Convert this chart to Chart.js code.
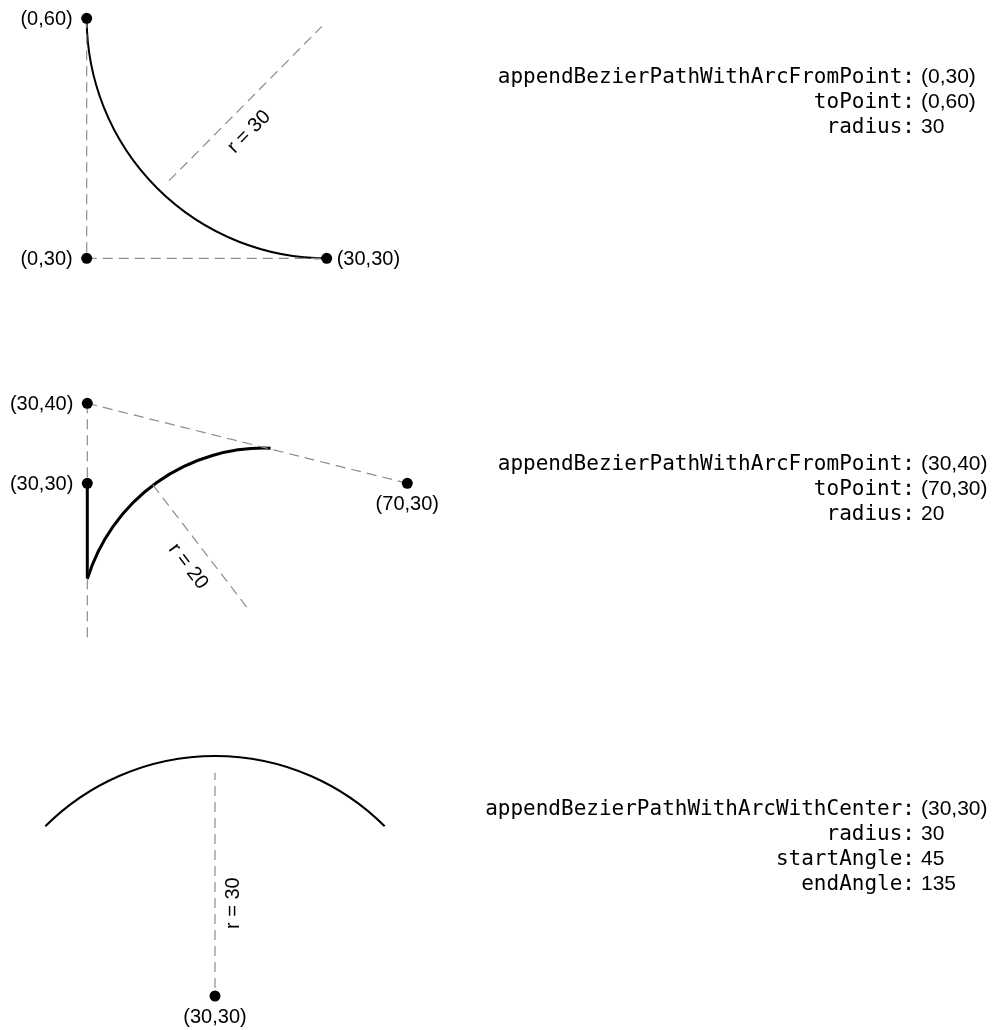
<!DOCTYPE html>
<html>
<head>
<meta charset="utf-8">
<script src="https://cdn.jsdelivr.net/npm/chart.js@4.4.1/dist/chart.umd.min.js"></script>
<style>
  body { margin: 0; background: #fff; }
  #page { position: relative; width: 993px; height: 1030px; overflow: hidden; }
  #page canvas { position: absolute; left: 0; }
  .call { position: absolute; left: 0; width: 993px; }
  .row { position: relative; height: 25px; line-height: 25px; }
  .k { position: absolute; right: 78px; font: 21px "DejaVu Sans Mono", monospace; color: #000; white-space: pre; }
  .v { position: absolute; left: 921px; font: 21px "Liberation Sans", Arial, sans-serif; color: #000; white-space: pre; }
</style>
</head>
<body>
<div id="page">
  <canvas id="arc1" width="993" height="330" style="top:0"></canvas>
  <canvas id="arc2" width="993" height="330" style="top:330px"></canvas>
  <canvas id="arc3" width="993" height="370" style="top:660px"></canvas>
  <div class="call" id="call1" style="top:64px"></div>
  <div class="call" id="call2" style="top:451px"></div>
  <div class="call" id="call3" style="top:796px"></div>
</div>
<script>
// --- data -------------------------------------------------------------
// 1: appendBezierPathWithArcFromPoint:(0,30) toPoint:(0,60) radius:30
const call1Keys = ['appendBezierPathWithArcFromPoint:', 'toPoint:', 'radius:'];
const call1Values = ['(0,30)', '(0,60)', '30'];
const p1Points = [{ x: 0, y: 60 }, { x: 0, y: 30 }, { x: 30, y: 30 }];
const p1Guides = [
  [{ x: 0, y: 60 }, { x: 0, y: 30 }],
  [{ x: 0, y: 30 }, { x: 30, y: 30 }],
  [{ x: 10.3, y: 39.7 }, { x: 29.4, y: 59 }]
];
const p1Arc = [30, 60, 30, 180, 270]; // centre x, centre y, radius, from, to (degrees)
const p1Radius = 30;

// 2: appendBezierPathWithArcFromPoint:(30,40) toPoint:(70,30) radius:20
const call2Keys = ['appendBezierPathWithArcFromPoint:', 'toPoint:', 'radius:'];
const call2Values = ['(30,40)', '(70,30)', '20'];
const p2Points = [{ x: 30, y: 40 }, { x: 30, y: 30 }, { x: 70, y: 30 }];
const p2Guides = [
  [{ x: 30, y: 40 }, { x: 30, y: 10.2 }],
  [{ x: 30, y: 40 }, { x: 70, y: 30 }],
  [{ x: 38.2, y: 29.8 }, { x: 50.1, y: 14.3 }]
];
const p2Path = [{ x: 30, y: 30 }, { x: 30, y: 18.2 }];
const p2Arc = [52.1, 11.3, 23.1, 88, 163];
const p2Radius = 20;

// 3: appendBezierPathWithArcWithCenter:(30,30) radius:30 startAngle:45 endAngle:135
const call3Keys = ['appendBezierPathWithArcWithCenter:', 'radius:', 'startAngle:', 'endAngle:'];
const call3Values = ['(30,30)', '30', '45', '135'];
const p3Points = [{ x: 30, y: 30 }];
const p3Guides = [[{ x: 30, y: 31 }, { x: 30, y: 57.9 }]];
const p3Arc = [30, 30, 30, 45, 135];
const p3Radius = 30;

// --- drawing ----------------------------------------------------------
const unit = 8; // px per unit, same on both axes

function xRange(value, px, size) {
  const min = value - px / unit;
  return { min, max: min + size / unit };
}
function yRange(value, px, size) {
  const max = value + px / unit;
  return { min: max - size / unit, max };
}

const pointLabel = p => '(' + p.x + ',' + p.y + ')';

const diagram = {
  id: 'diagram',
  beforeDatasetsDraw(chart, args, opts) {
    const { ctx, scales: { x, y } } = chart;
    const [cx, cy, r, from, to] = opts.arc;
    const px = x.getPixelForValue(cx), py = y.getPixelForValue(cy);
    const rx = Math.abs(x.getPixelForValue(cx + r) - px);
    const ry = Math.abs(y.getPixelForValue(cy + r) - py);
    ctx.save();
    ctx.beginPath();
    ctx.ellipse(px, py, rx, ry, 0, -from * Math.PI / 180, -to * Math.PI / 180, true);
    ctx.lineWidth = opts.arcWidth;
    ctx.strokeStyle = '#000';
    ctx.stroke();
    ctx.restore();
  },
  afterDatasetsDraw(chart, args, opts) {
    const { ctx, scales: { x, y } } = chart;
    ctx.save();
    ctx.fillStyle = '#000';
    ctx.font = '20px "Liberation Sans", Arial, sans-serif';
    opts.points.forEach((p, i) => {
      const px = x.getPixelForValue(p.x), py = y.getPixelForValue(p.y);
      const where = opts.placement[i];
      if (where === 'left') {
        ctx.textAlign = 'right'; ctx.textBaseline = 'middle';
        ctx.fillText(pointLabel(p), px - 14, py + 1);
      } else if (where === 'right') {
        ctx.textAlign = 'left'; ctx.textBaseline = 'middle';
        ctx.fillText(pointLabel(p), px + 10, py + 1);
      } else {
        ctx.textAlign = 'center'; ctx.textBaseline = 'middle';
        ctx.fillText(pointLabel(p), px, py + 21);
      }
    });
    const lab = opts.radiusLabel;
    ctx.translate(x.getPixelForValue(lab.x), y.getPixelForValue(lab.y));
    ctx.rotate(lab.angle * Math.PI / 180);
    ctx.textAlign = 'center';
    ctx.textBaseline = 'middle';
    ctx.fillText('r = ' + opts.radius, 0, 0);
    ctx.restore();
  }
};

function guideSet(line) {
  return {
    data: line, showLine: true, borderColor: '#8c8c8c', borderWidth: 1.2,
    borderDash: [10, 6], pointRadius: 0, fill: false, order: 2
  };
}

function makeDiagram(id, size, anchor, guides, path, points, arc, arcWidth, placement, radius, radiusLabel) {
  const datasets = guides.map(guideSet);
  if (path) {
    datasets.push({ data: path, showLine: true, borderColor: '#000', borderWidth: arcWidth, pointRadius: 0, order: 1 });
  }
  datasets.push({ data: points, showLine: false, pointRadius: 5.5, pointBackgroundColor: '#000', pointBorderWidth: 0, order: 0 });
  return new Chart(document.getElementById(id), {
    type: 'scatter',
    data: { datasets },
    options: {
      responsive: false,
      animation: false,
      events: [],
      layout: { padding: 0, autoPadding: false },
      scales: {
        x: Object.assign({ type: 'linear', display: false }, xRange(anchor[0], anchor[1], size[0])),
        y: Object.assign({ type: 'linear', display: false }, yRange(anchor[2], anchor[3], size[1]))
      },
      plugins: {
        legend: { display: false },
        tooltip: { enabled: false },
        diagram: { arc, arcWidth, points, placement, radius, radiusLabel }
      }
    },
    plugins: [diagram]
  });
}

makeDiagram('arc1', [993, 330], [0, 86.7, 30, 258.3], p1Guides, null, p1Points, p1Arc, 2,
  ['left', 'left', 'right'], p1Radius, { x: 20.3, y: 45.8, angle: -45 });
makeDiagram('arc2', [993, 330], [30, 87.3, 30, 153.3], p2Guides, p2Path, p2Points, p2Arc, 3,
  ['left', 'left', 'below'], p2Radius, { x: 42.6, y: 19.6, angle: 52.5 });
makeDiagram('arc3', [993, 370], [30, 215, 30, 336], p3Guides, null, p3Points, p3Arc, 2,
  ['below'], p3Radius, { x: 32.25, y: 41.6, angle: -90 });

// method call text on the right
function writeCall(id, keys, values) {
  const box = document.getElementById(id);
  keys.forEach((k, i) => {
    const row = document.createElement('div');
    row.className = 'row';
    const ks = document.createElement('span');
    ks.className = 'k';
    ks.textContent = k;
    const vs = document.createElement('span');
    vs.className = 'v';
    vs.textContent = values[i];
    row.appendChild(ks);
    row.appendChild(vs);
    box.appendChild(row);
  });
}
writeCall('call1', call1Keys, call1Values);
writeCall('call2', call2Keys, call2Values);
writeCall('call3', call3Keys, call3Values);
</script>
</body>
</html>
